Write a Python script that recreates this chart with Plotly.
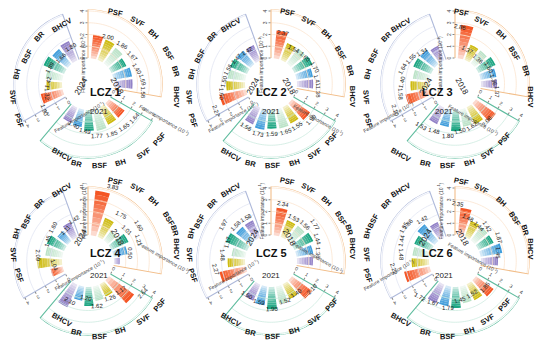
import numpy as np
import plotly.graph_objects as go

# ---------------- data (feature importance, 10^-1) ----------------
lcz_names = ["LCZ 1", "LCZ 2", "LCZ 3", "LCZ 4", "LCZ 5", "LCZ 6"]
years = ["2018", "2021", "2024"]
features = ["PSF", "SVF", "BH", "BSF", "BR", "BHCV"]

imp_2018 = [
    [2.00, 1.86, 1.67, 1.40, 1.59, 1.58],
    [2.37, 1.54, 1.60, 1.70, 1.41, 1.38],
    [2.86, 1.37, 1.36, 1.60, 1.36, 1.37],
    [3.83, 1.75, 1.01, 1.60, 1.21, 0.50],
    [2.34, 1.53, 1.56, 1.77, 1.44, 1.36],
    [2.35, 1.48, 1.44, 1.42, 1.87, 1.45],
]
imp_2021 = [
    [1.64, 1.65, 1.85, 1.77, 1.49, 1.40],
    [1.90, 1.55, 1.65, 1.59, 1.73, 1.56],
    [2.08, 1.62, 1.50, 1.80, 1.48, 1.53],
    [2.64, 1.17, 1.26, 1.62, 1.20, 2.10],
    [2.10, 1.40, 1.52, 1.90, 1.59, 1.50],
    [1.85, 1.52, 1.45, 1.79, 1.67, 1.72],
]
imp_2024 = [
    [1.90, 1.32, 1.42, 1.89, 1.66, 1.80],
    [2.27, 1.60, 1.50, 1.56, 1.47, 1.42],
    [2.10, 1.58, 1.40, 1.64, 1.55, 1.34],
    [1.04, 2.09, 1.45, 1.60, 1.11, 1.42],
    [2.27, 1.48, 1.17, 1.97, 1.58, 1.58],
    [2.22, 1.48, 1.44, 1.55, 1.86, 1.42],
]
radial_ticks = [0, 1, 2, 3, 4]
axis_title = "Feature importance (10<sup>-1</sup>)"

# ---------------- styling ----------------
feat_colors = ["#F4511E", "#CDB90A", "#B9E2C6", "#15A37E", "#3C9BDA", "#8F7EC6"]
frame_colors = ["#F2BE8A", "#5FBC9E", "#AEB9DA"]
grid_colors = ["#FBE4CF", "#CDEBE0", "#E1E5F2"]
FONT = "Liberation Sans"

W, H = 550, 350
PXU = 11.75            # pixels per radial unit
R0PX = 26.0            # pixel radius of value 0
RMAX = 4.15
RMIN = -R0PX / PXU
RPX = (RMAX - RMIN) * PXU
CX = [88, 271, 455]
CY = [84, 261]

AXIS_ANG = [0, 120, 240]     # clockwise from north
BAR_OFF, BAR_STEP, BAR_W, SPAN = 12.0, 15.6, 12.0, 100.0
NSEG = 10


def mix(c, t):
    c = c.lstrip("#")
    r, g, b = int(c[0:2], 16), int(c[2:4], 16), int(c[4:6], 16)
    return "rgb(%d,%d,%d)" % (255 + (r - 255) * t, 255 + (g - 255) * t, 255 + (b - 255) * t)


def tangent_angle(a):
    a = a % 360
    if a <= 90:
        return a
    if a < 270:
        return a - 180
    return a - 360


def to_paper(cx, cy, ang, rpx):
    a = np.radians(ang)
    return (cx + rpx * np.sin(a)) / W, 1 - (cy - rpx * np.cos(a)) / H


def radius_px(v):
    # pixel radius of a radial value, same mapping as the radial axis range
    return (v - RMIN) / (RMAX - RMIN) * RPX


fig = go.Figure()
layout = {}
annotations = []
tables = [imp_2018, imp_2021, imp_2024]

for li, name in enumerate(lcz_names):
    cx = CX[li % 3]
    cy = CY[li // 3]
    dom_x = [(cx - RPX) / W, (cx + RPX) / W]
    dom_y = [1 - (cy + RPX) / H, 1 - (cy - RPX) / H]
    for yi, yr in enumerate(years):
        pid = li * 3 + yi + 1
        sp = "polar" if pid == 1 else "polar%d" % pid
        a0 = AXIS_ANG[yi]
        vals = tables[yi][li]
        thetas = [a0 + BAR_OFF + BAR_STEP * k for k in range(len(features))]

        # grid arcs
        arc = list(np.linspace(a0, a0 + SPAN, 60))
        for g in radial_ticks[1:]:
            fig.add_trace(go.Scatterpolar(
                r=[g] * len(arc), theta=arc, mode="lines", subplot=sp,
                line=dict(color=grid_colors[yi], width=0.8),
                hoverinfo="skip", showlegend=False))
        # frame
        fig.add_trace(go.Scatterpolar(
            r=[0] + [RMAX] * len(arc) + [0], theta=[a0] + arc + [a0 + SPAN],
            mode="lines", subplot=sp,
            line=dict(color=frame_colors[yi], width=1.1),
            hoverinfo="skip", showlegend=False))
        # gradient bars (stacked segments, fading towards the base)
        for s in range(NSEG):
            frac = (s + 0.5) / NSEG
            t = 0.1 + 0.9 * frac ** 0.7
            fig.add_trace(go.Barpolar(
                r=[v / NSEG for v in vals], base=[v * s / NSEG for v in vals],
                theta=thetas, width=BAR_W, subplot=sp,
                marker=dict(color=[mix(c, t) for c in feat_colors], line=dict(width=0)),
                hoverinfo="skip", showlegend=False))

        layout[sp] = dict(
            domain=dict(x=dom_x, y=dom_y),
            bgcolor="rgba(0,0,0,0)",
            hole=0,
            angularaxis=dict(
                rotation=90, direction="clockwise", thetaunit="degrees",
                showticklabels=False, ticks="", showline=False, showgrid=False),
            radialaxis=dict(
                range=[RMIN, RMAX], angle=90 - a0, side="counterclockwise",
                tickmode="array", tickvals=radial_ticks,
                ticks="outside", ticklen=2, tickwidth=0.6, tickcolor="#888",
                tickfont=dict(size=5, family=FONT, color="#444"),
                showline=False, showgrid=False),
        )

        # value labels and category labels, written tangentially
        for k, (th, v) in enumerate(zip(thetas, vals)):
            xp, yp = to_paper(cx, cy, th, radius_px(v) + 5)
            annotations.append(dict(
                x=xp, y=yp, xref="paper", yref="paper", text="%.2f" % v,
                showarrow=False, textangle=tangent_angle(th),
                font=dict(size=6, family=FONT, color="#222")))
            xp, yp = to_paper(cx, cy, th, RPX + 7)
            annotations.append(dict(
                x=xp, y=yp, xref="paper", yref="paper", text="<b>%s</b>" % features[k],
                showarrow=False, textangle=tangent_angle(th),
                font=dict(size=7.5, family=FONT, color="#111")))

        # radial axis title, along the axis on its counter-clockwise side
        mid = radius_px(2)
        nx = np.sin(np.radians(a0 - 90))
        ny = -np.cos(np.radians(a0 - 90))
        px0 = cx + mid * np.sin(np.radians(a0)) + 10 * nx
        py0 = cy - mid * np.cos(np.radians(a0)) + 10 * ny
        ta = {0: -90, 120: 30, 240: -30}[a0]
        annotations.append(dict(
            x=px0 / W, y=1 - py0 / H, xref="paper", yref="paper",
            text=axis_title, showarrow=False, textangle=ta,
            font=dict(size=5, family=FONT, color="#444")))

        # year label (tangential, mid-sector)
        am = a0 + 60
        xp, yp = to_paper(cx, cy, am, 21.0)
        annotations.append(dict(
            x=xp, y=yp, xref="paper", yref="paper", text=yr, showarrow=False,
            textangle=tangent_angle(am), font=dict(size=8, family=FONT, color="#222")))

    annotations.append(dict(
        x=cx / W, y=1 - cy / H, xref="paper", yref="paper", text="<b>%s</b>" % name,
        showarrow=False, font=dict(size=11, family=FONT, color="#111")))

fig.update_layout(
    width=W, height=H, margin=dict(l=0, r=0, t=0, b=0, autoexpand=False),
    paper_bgcolor="white", plot_bgcolor="white",
    annotations=annotations, showlegend=False, **layout)

fig.write_html(
    "out.html",
    config={"displayModeBar": False},
    post_script="document.body.style.margin='0px';document.body.style.overflow='hidden';")
